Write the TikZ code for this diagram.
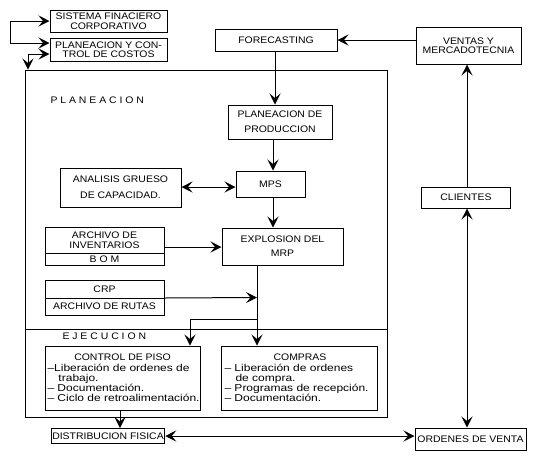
\documentclass[tikz,border=0pt]{standalone}
\usepackage{fontspec}
\setmainfont{Liberation Sans}[FakeStretch=1.1]
\newfontfamily\listfont{Liberation Sans}[FakeStretch=1.2]
\usetikzlibrary{arrows.meta}
\begin{document}
\begin{tikzpicture}[x=1pt,y=-1pt,
  line width=1pt,
  box/.style={draw, inner sep=1pt, align=center,
    font=\fontsize{9.5}{9.5}\selectfont},
  lbl/.style={inner sep=0pt, font=\fontsize{9.5}{9.5}\selectfont},
  listtext/.style={inner sep=0pt, align=left, anchor=north west,
    font=\listfont\fontsize{10}{10}\selectfont},
  tip/.tip={Stealth[length=11pt,width=11pt,inset=4.5pt]},
  arr/.style={-tip},
  darr/.style={tip-tip},
]
\useasboundingbox (0,0) rectangle (538,459);

% corporate boxes, upper left
\node[box, minimum width=117, minimum height=22] (sis) at (108.5,21) {SISTEMA FINACIERO\\CORPORATIVO};
\node[box, minimum width=117, minimum height=23] (pyc) at (108.5,49.5) {PLANEACION Y CON-\\TROL DE COSTOS};

% outer frame: planning above, execution below
\node[draw, minimum width=362, minimum height=347, inner sep=0pt] (frame) at (206,243.5) {};
\coordinate (divL) at (25,329);
\coordinate (divR) at (387,329);
\draw (divL) -- (divR);
\node[lbl, anchor=west] (plan) at (50,100) {P L A N E A C I O N};
\node[lbl, anchor=west] (ejec) at (62,336) {E J E C U C I O N};

% upper chain
\node[box, minimum width=122, minimum height=22] (fc) at (276,40) {FORECASTING};
\node[box, minimum width=105, minimum height=37] (ven) at (468.5,45.5) {VENTAS Y\\MERCADOTECNIA};
\node[box, minimum width=104, minimum height=34, font=\fontsize{9.5}{15}\selectfont] (pp) at (280,122) {PLANEACION DE\\PRODUCCION};
\node[box, minimum width=69, minimum height=26] (mps) at (270.5,184) {MPS};
\node[box, minimum width=121, minimum height=39, font=\fontsize{9.5}{16}\selectfont] (agc) at (120.5,187.5) {ANALISIS GRUESO\\DE CAPACIDAD.};
\node[box, minimum width=121, minimum height=37, font=\fontsize{9.5}{14}\selectfont] (mrp) at (282.5,246.5) {EXPLOSION DEL\\MRP};

% split boxes
\node[draw, minimum width=119, minimum height=38, inner sep=0pt] (inv) at (104.5,246) {};
\draw (inv.west |- 0,253) -- (inv.east |- 0,253);
\node[lbl, align=center, font=\fontsize{9.5}{9.5}\selectfont] (invt) at (104.5,240) {ARCHIVO DE\\INVENTARIOS};
\node[lbl] (bom) at (104.5,259) {B O M};

\node[draw, minimum width=119, minimum height=35, inner sep=0pt] (crp) at (104.5,297.5) {};
\draw (crp.west |- 0,298) -- (crp.east |- 0,298);
\node[lbl] (crpt) at (104.5,289) {CRP};
\node[lbl] (rut) at (104.5,306) {ARCHIVO DE RUTAS};

% execution boxes
\node[draw, minimum width=155, minimum height=64, inner sep=0pt] (cp) at (122.5,378) {};
\node[lbl] (cpt) at (122.5,357) {CONTROL DE PISO};
\node[listtext] (cpl) at (47,364) {–Liberación de ordenes de\\\hspace*{1.1em}trabajo.\\– Documentación.\\– Ciclo de retroalimentación.};

\node[draw, minimum width=156, minimum height=64, inner sep=0pt] (com) at (299,378) {};
\node[lbl] (comt) at (300,357) {COMPRAS};
\node[listtext] (coml) at (224,364) {– Liberación de ordenes\\\hspace*{1.1em}de compra.\\– Programas de recepción.\\– Documentación.};

% customer side
\node[box, minimum width=89, minimum height=21] (cli) at (466,197.5) {CLIENTES};
\node[box, minimum width=100, minimum height=15] (df) at (108,436) {DISTRIBUCION FISICA};
\node[box, minimum width=111, minimum height=22] (ov) at (470.5,439) {ORDENES DE VENTA};

% junction points
\coordinate (bl) at (10,21);
\coordinate (bk) at (28,54);
\coordinate (mrpx) at (257,0);
\coordinate (cpx) at (190,0);
\coordinate (split) at (257,319);

% connectors
\draw[darr] (sis.west |- bl) -- (bl) |- (pyc.west |- 0,43);
\draw[darr] (pyc.west |- bk) -- (bk) -- (frame.north -| bk);
\draw[arr] (ven.west |- fc.east) -- (fc.east);
\draw[arr] (fc.south -| 275,0) -- (pp.north -| 275,0);
\draw[arr] (pp.south -| 273,0) -- (mps.north -| 273,0);
\draw[darr] (agc.east |- 0,187) -- (mps.west |- 0,187);
\draw[arr] (mps.south -| 273,0) -- (mrp.north -| 273,0);
\draw[arr] (inv.east |- 0,247) -- (mrp.west |- 0,247);
\draw[arr] (crp.east |- 0,298) -- (mrpx |- crp.east);
\draw[arr] (mrp.south -| mrpx) -- (com.north -| mrpx);
\draw[arr] (split) -| (cp.north -| cpx);
\draw[arr] (cp.south -| 120,0) -- (df.north -| 120,0);
\draw[darr] (df.east) -- (ov.west |- df.east);
\draw[arr] (cli.north -| 467,0) -- (ven.south -| 467,0);
\draw[darr] (cli.south -| 467,0) -- (ov.north -| 467,0);
\end{tikzpicture}
\end{document}
